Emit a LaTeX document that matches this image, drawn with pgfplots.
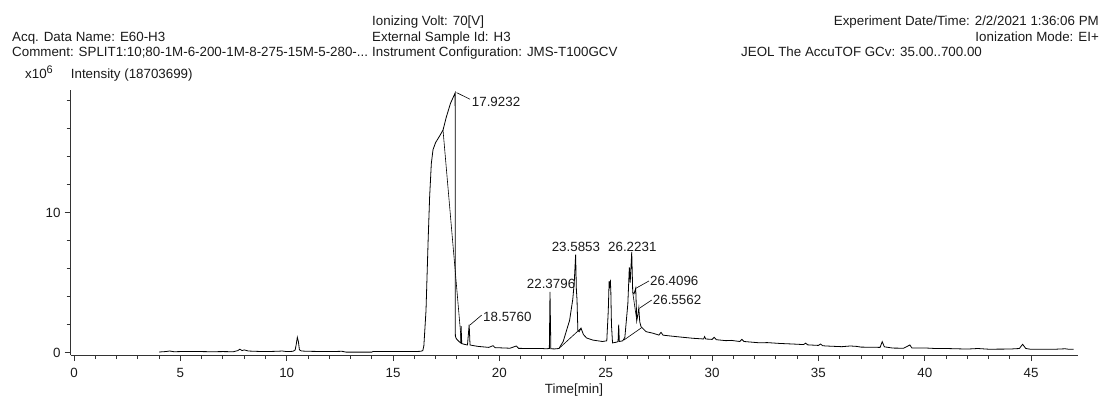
\documentclass[border=0pt]{standalone}
\usepackage{fontspec}
\setmainfont{Liberation Sans}
\usepackage{pgfplots}
\pgfplotsset{compat=1.18}
\definecolor{txt}{HTML}{1A1A1A}
\definecolor{axc}{HTML}{333333}
\newcommand\f{\fontsize{13.4}{15}\selectfont}
\begin{document}
\begin{tikzpicture}
\useasboundingbox (0bp,0bp) rectangle (1102bp,396bp);
\begin{axis}[
  at={(70.7bp,41bp)}, anchor=south west,
  scale only axis, width=1007bp, height=265bp,
  xmin=-0.155, xmax=47.19, ymin=-0.164, ymax=18.76,
  axis x line*=bottom, axis y line*=left,
  axis line style={axc, line width=0.9bp, -},
  xtick={0,5,...,45}, minor x tick num=4,
  ytick={0,10}, minor ytick={2,4,6,8,12,14,16,18},
  tick align=outside, major tick length=6bp, minor tick length=4bp,
  every tick/.style={axc, line width=0.9bp},
  /pgf/number format/assume math mode=true,
  xticklabel style={font=\f, text=txt, anchor=north, inner sep=0pt, yshift=-7bp},
  yticklabel style={font=\f, text=txt, anchor=east, inner sep=0pt, xshift=-4bp},
  clip=false,
]
\addplot[black, line width=0.8bp] coordinates {
(4.0,0.05) (4.3,0.08) (4.5,0.12) (4.7,0.07) (5.0,0.08) (5.5,0.08) (6.0,0.08) (6.5,0.07) (7.0,0.08) (7.5,0.07)
(7.7,0.15) (7.8,0.25) (7.9,0.15) (8.0,0.2) (8.2,0.12) (8.5,0.1) (9.0,0.08) (9.5,0.1) (9.8,0.12) (10.0,0.08)
(10.3,0.1) (10.4,0.2) (10.45,0.6) (10.5,1.1) (10.55,0.8) (10.6,0.2) (10.7,0.12) (11.0,0.1) (12.0,0.08) (12.6,0.1)
(12.8,0.04) (14.0,0.04) (14.05,0.08) (16.0,0.08) (16.3,0.1) (16.4,0.15)
(16.45,0.5) (16.55,3.0) (16.65,8.0) (16.72,11.1) (16.8,13.5) (16.88,14.5) (17.0,15.0) (17.2,15.5) (17.35,15.9)
(17.5,16.8) (17.7,17.8) (17.92,18.55) (17.93,1.2) (17.96,1.05) (18.0,0.95) (18.1,0.8) (18.18,0.7) (18.2,1.9)
(18.23,0.65) (18.35,0.6) (18.5,0.55) (18.58,2.0) (18.62,0.55) (18.8,0.5) (19.0,0.45) (19.5,0.38) (19.7,0.5)
(19.8,0.36) (20.0,0.35) (20.5,0.32) (20.8,0.48) (20.9,0.31) (21.5,0.3) (22.0,0.3) (22.2,0.28) (22.35,0.3)
(22.38,4.35) (22.42,0.28) (22.6,0.27) (22.8,0.3) (23.0,0.8) (23.2,1.8) (23.3,2.3) (23.45,3.8) (23.52,5.0)
(23.585,7.0) (23.62,4.5) (23.65,3.8) (23.69,1.6) (23.75,1.5) (23.84,1.75) (23.95,1.3) (24.1,1.05) (24.4,0.9)
(24.85,0.8) (25.05,0.85) (25.12,3.0) (25.16,5.1) (25.18,4.6) (25.2,5.0) (25.22,5.1) (25.24,4.4) (25.27,2.0) (25.32,0.7) (25.5,0.75)
(25.58,0.8) (25.61,2.0) (25.64,0.8) (25.8,0.85) (25.9,1.1) (26.04,3.5) (26.11,6.1) (26.15,5.0) (26.2231,7.2)
(26.27,4.3) (26.33,4.2) (26.41,4.6) (26.46,2.3) (26.5,2.6) (26.556,3.2) (26.6,2.2) (26.66,1.86) (26.9,1.5)
(27.2,1.4) (27.5,1.26) (27.6,1.45) (27.7,1.25) (28.0,1.2) (28.5,1.12) (29.1,1.03) (29.6,0.98) (29.65,1.15)
(29.7,0.98) (30.0,0.95) (30.1,1.1) (30.2,0.93) (30.65,0.86) (30.9,0.88) (31.3,0.8) (31.4,0.95) (31.5,0.8)
(32.2,0.71) (32.6,0.72) (33.2,0.66) (33.8,0.62) (34.3,0.58) (34.4,0.68) (34.5,0.56) (35.0,0.52) (35.1,0.62)
(35.2,0.5) (35.35,0.48) (36.1,0.43) (36.5,0.48) (36.8,0.45) (37.0,0.4) (37.9,0.38) (38.0,0.79) (38.1,0.42)
(38.5,0.33) (39.0,0.32) (39.3,0.55) (39.4,0.33) (40.0,0.34) (40.5,0.3) (41.0,0.3) (42.0,0.26) (42.5,0.3)
(43.0,0.25) (44.0,0.26) (44.45,0.3) (44.6,0.6) (44.75,0.3) (45.0,0.24) (46.0,0.24) (46.6,0.28) (46.8,0.24) (47.0,0.24)
};
\addplot[black, line width=0.6bp] coordinates {(17.35,15.9) (18.22,0.65)};
\addplot[black, line width=0.6bp] coordinates {(22.8,0.3) (23.84,1.75)};
\addplot[black, line width=0.6bp] coordinates {(25.85,0.9) (26.7,1.8)};
\addplot[black, line width=0.6bp] coordinates {(26.27,4.3) (26.46,2.3)};
% peak labels
\draw[black, line width=0.6bp] (17.99,18.57) -- (18.62,18.1);
\node[anchor=west, inner sep=0pt, font=\f, text=txt] at (18.70,17.93) {17.9232};
\draw[black, line width=0.6bp] (18.62,1.98) -- (19.17,2.69);
\node[anchor=west, inner sep=0pt, font=\f, text=txt] at (19.23,2.55) {18.5760};
\node[anchor=center, inner sep=0pt, font=\f, text=txt] at (22.43,4.9) {22.3796};
\node[anchor=center, inner sep=0pt, font=\f, text=txt] at (23.60,7.57) {23.5853};
\node[anchor=center, inner sep=0pt, font=\f, text=txt] at (26.25,7.57) {26.2231};
\draw[black, line width=0.6bp] (26.42,4.6) -- (27.03,5.12);
\node[anchor=west, inner sep=0pt, font=\f, text=txt] at (27.08,5.12) {26.4096};
\draw[black, line width=0.6bp] (26.58,3.17) -- (27.16,3.76);
\node[anchor=west, inner sep=0pt, font=\f, text=txt] at (27.21,3.76) {26.5562};
\end{axis}
\begin{scope}[every node/.style={inner sep=0pt, font=\f, text=txt}]
\node[anchor=base west] at (12bp,354.5bp) {Acq. Data Name: E60-H3};
\node[anchor=base west] at (12bp,339.5bp) {Comment: SPLIT1:10;80-1M-6-200-1M-8-275-15M-5-280-...};
\node[anchor=base west] at (372bp,370bp) {Ionizing Volt: 70[V]};
\node[anchor=base west] at (372bp,354.5bp) {External Sample Id: H3};
\node[anchor=base west] at (372bp,339.5bp) {Instrument Configuration: JMS-T100GCV};
\node[anchor=base east] at (1099bp,370bp) {Experiment Date/Time: 2/2/2021 1:36:06 PM};
\node[anchor=base east] at (1099bp,354.5bp) {Ionization Mode: EI+};
\node[anchor=base west] at (741bp,339.5bp) {JEOL The AccuTOF GCv: 35.00..700.00};
\node[anchor=base west] at (25bp,317bp) {x10\raisebox{0.75ex}{\fontsize{11}{11}\selectfont 6}};
\node[anchor=base west] at (70.7bp,317bp) {Intensity (18703699)};
\node[anchor=base] at (574bp,3bp) {Time[min]};
\end{scope}
\end{tikzpicture}
\end{document}
